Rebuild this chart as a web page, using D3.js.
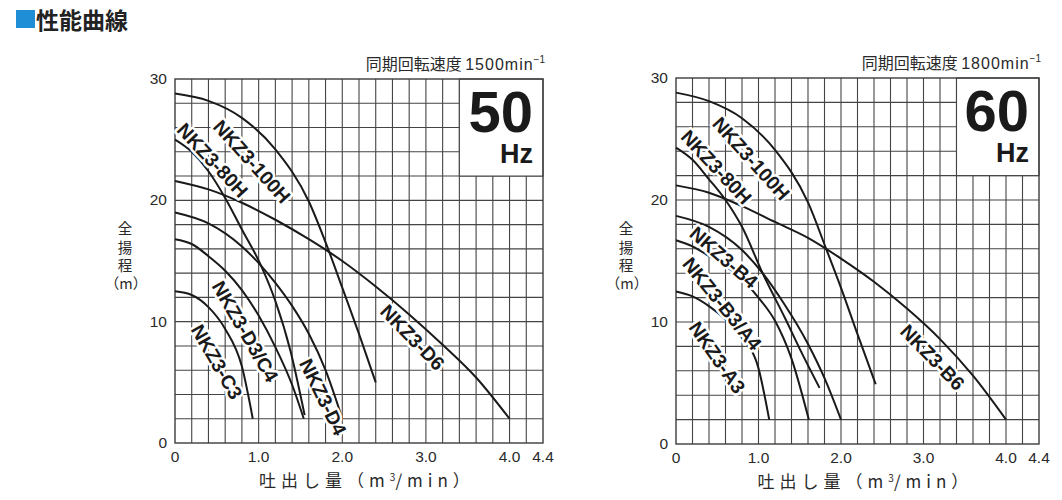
<!DOCTYPE html>
<html lang="ja">
<head>
<meta charset="UTF-8"/>
<title>性能曲線</title>
<script src="https://d3js.org/d3.v7.min.js"></script>
<style type="text/css">
    body { margin: 0; background: #fff; }
    text { font-family: "Liberation Sans", Arial, "Noto Sans CJK JP", sans-serif; fill: #2a2a2a; }
    .jp { font-family: "Noto Sans CJK JP", sans-serif; }
    .grid line { stroke: #444; stroke-width: 1.1px; }
    .frame { fill: none; stroke: #3c3c3c; stroke-width: 1.4px; }
    path.curve { fill: none; stroke: #1a1a1a; stroke-width: 2px; }
    .lbl { font-weight: bold; font-size: 19.5px; fill: #1a1a1a; stroke: #fff; stroke-width: 5px; paint-order: stroke fill; stroke-linejoin: round; }
</style>
</head>
<body>
<svg id="chart" width="1062" height="500"></svg>
<script type="text/javascript">
// axis ticks
var xTicks = [0, 1.0, 2.0, 3.0, 4.0, 4.4];
var xTickLabels = ["0", "1.0", "2.0", "3.0", "4.0", "4.4"];
var yTicks = [0, 10, 20, 30];

// 50Hz curves [flow m3/min, head m]
var c50_100H = [[0,28.8],[0.4,28.2],[0.8,26.8],[1.2,24.2],[1.6,19.9],[1.83,16.0],[2.0,12.8],[2.2,9.0],[2.4,5.0]];
var c50_80H  = [[0,25.0],[0.2,24.0],[0.4,22.4],[0.6,20.2],[0.8,17.6],[1.03,14.6],[1.2,11.7],[1.38,7.6],[1.55,2.3]];
var c50_D6   = [[0,21.6],[0.4,20.9],[0.8,19.8],[1.2,18.4],[1.6,16.8],[2.0,15.0],[2.4,12.9],[2.8,10.6],[3.2,8.1],[3.6,5.4],[4.0,2.0]];
var c50_D4   = [[0,19.0],[0.4,18.1],[0.8,16.2],[1.03,14.6],[1.2,13.2],[1.4,11.3],[1.6,9.0],[1.8,6.0],[2.0,2.0]];
var c50_D3C4 = [[0,16.8],[0.2,16.4],[0.4,15.4],[0.6,14.2],[0.8,12.6],[1.0,10.5],[1.2,7.9],[1.4,4.8],[1.54,2.0]];
var c50_C3   = [[0,12.5],[0.2,12.2],[0.4,11.2],[0.6,9.4],[0.8,6.3],[0.93,2.0]];

// 60Hz curves
var c60_100H = [[0,28.8],[0.4,28.1],[0.8,26.7],[1.2,24.1],[1.6,19.8],[1.82,16.0],[2.0,12.8],[2.2,9.0],[2.42,4.9]];
var c60_80H  = [[0,24.3],[0.2,23.3],[0.4,21.7],[0.6,20.0],[0.8,17.8],[1.05,14.0],[1.33,10.2],[1.5,7.8],[1.74,4.6]];
var c60_B6   = [[0,21.2],[0.4,20.6],[0.8,19.5],[1.2,18.2],[1.6,16.9],[2.0,15.2],[2.4,13.3],[2.8,11.1],[3.2,8.6],[3.6,5.6],[4.0,2.0]];
var c60_B4   = [[0,18.7],[0.4,17.8],[0.8,15.9],[1.05,14.0],[1.3,11.6],[1.6,8.2],[1.8,5.4],[2.0,2.0]];
var c60_B3A4 = [[0,16.7],[0.2,16.2],[0.4,15.4],[0.6,14.6],[0.8,13.5],[1.0,12.0],[1.2,10.1],[1.4,7.0],[1.61,2.0]];
var c60_A3   = [[0,12.5],[0.2,12.1],[0.4,11.3],[0.6,10.2],[0.8,8.7],[1.0,6.2],[1.13,2.0]];

// curve labels: name, flow, head, angle
var labels50 = [["NKZ3-100H",0.92,23.2,48],["NKZ3-80H",0.45,23.3,47],["NKZ3-D6",2.84,8.7,46],
                ["NKZ3-D3/C4",0.84,9.2,60],["NKZ3-C3",0.5,6.7,60],["NKZ3-D4",1.77,3.8,64]];
var labels60 = [["NKZ3-100H",0.91,23.4,48],["NKZ3-80H",0.49,22.7,47],["NKZ3-B6",3.11,7.1,46],
                ["NKZ3-B4",0.58,15.3,41],["NKZ3-B3/A4",0.56,11.5,51],["NKZ3-A3",0.5,7.1,55]];

var svg = d3.select("#chart");

// title
svg.append("rect").attr("x", 16).attr("y", 10).attr("width", 19).attr("height", 18).attr("fill", "#1f8ed6");
svg.append("text").attr("class", "jp").attr("x", 36).attr("y", 29)
    .style("font-size", "23px").style("font-weight", "bold").style("fill", "#222").text("性能曲線");

function drawChart(opt) {
    var x = d3.scaleLinear().domain([0, 4.4]).range([opt.left, opt.right]);
    var y = d3.scaleLinear().domain([0, 30]).range([opt.bottom, opt.top]);
    var g = svg.append("g");

    // grid
    var grid = g.append("g").attr("class", "grid");
    grid.selectAll("line.v").data(d3.range(1, 22)).enter().append("line")
        .attr("x1", function (d) { return x(d * 0.2); }).attr("x2", function (d) { return x(d * 0.2); })
        .attr("y1", y(0)).attr("y2", y(30));
    grid.selectAll("line.h").data(d3.range(1, 15)).enter().append("line")
        .attr("x1", x(0)).attr("x2", x(4.4))
        .attr("y1", function (d) { return y(d * 2); }).attr("y2", function (d) { return y(d * 2); });

    // Hz box
    g.append("rect").attr("x", x(3.4)).attr("y", y(30))
        .attr("width", x(4.4) - x(3.4)).attr("height", y(22) - y(30))
        .attr("fill", "#fff").attr("stroke", "#444").attr("stroke-width", 1.1);
    var hz = g.append("text").attr("text-anchor", "end").style("font-weight", "bold").style("fill", "#1a1a1a");
    hz.append("tspan").attr("x", x(4.4) - 10).attr("y", y(30) + 53).style("font-size", "58px").text(opt.hz);
    hz.append("tspan").attr("x", x(4.4) - 10).attr("y", y(30) + 84).style("font-size", "27px").text("Hz");

    g.append("rect").attr("class", "frame").attr("x", x(0)).attr("y", y(30))
        .attr("width", x(4.4) - x(0)).attr("height", y(0) - y(30));

    // curves
    var line = d3.line().x(function (d) { return x(d[0]); }).y(function (d) { return y(d[1]); })
        .curve(d3.curveMonotoneX);
    g.selectAll("path.curve").data(opt.curves).enter().append("path")
        .attr("class", "curve").attr("d", line);

    // labels
    g.selectAll("text.lbl").data(opt.labels).enter().append("text")
        .attr("class", "lbl").attr("text-anchor", "middle").attr("dy", "0.35em")
        .attr("transform", function (d) { return "translate(" + x(d[1]) + "," + y(d[2]) + ") rotate(" + d[3] + ")"; })
        .text(function (d) { return d[0]; });

    // tick labels
    g.selectAll("text.xt").data(xTicks).enter().append("text")
        .attr("x", function (d) { return x(d); }).attr("y", y(0) + 19)
        .attr("text-anchor", "middle").style("font-size", "15.5px")
        .text(function (d, i) { return xTickLabels[i]; });
    g.selectAll("text.yt").data(yTicks).enter().append("text")
        .attr("x", x(0) - 8).attr("y", function (d) { return y(d) + 5; })
        .attr("text-anchor", "end").style("font-size", "15.5px")
        .text(function (d) { return d; });

    // speed
    var sp = g.append("text").attr("x", x(4.4) + 2).attr("y", y(30) - 9).attr("text-anchor", "end")
        .style("font-size", "16px");
    sp.append("tspan").attr("class", "jp").text("同期回転速度 ");
    sp.append("tspan").style("letter-spacing", "1px").text(opt.speed + "min");
    sp.append("tspan").attr("dy", -7).style("font-size", "10px").text("−1");

    // axis titles (stacked in one text element)
    var ya = g.append("text").attr("class", "jp").attr("text-anchor", "middle").style("font-size", "14.5px");
    ["全", "揚", "程"].forEach(function (c, i) {
        ya.append("tspan").attr("x", x(0) - 50).attr("y", y(17.2) + i * 18.5).text(c);
    });
    ya.append("tspan").attr("x", x(0) - 49).attr("y", y(17.2) + 55).text("（m）");

    var xa = g.append("text").attr("class", "jp").attr("x", x(2.2) + 8).attr("y", y(0) + 44)
        .attr("text-anchor", "middle").style("font-size", "17px").style("letter-spacing", "5px");
    xa.append("tspan").text("吐出し量（m");
    xa.append("tspan").attr("dy", -6).style("font-size", "10px").style("letter-spacing", "0px").text("3");
    xa.append("tspan").attr("dy", 6).text("/min）");
}

drawChart({left: 175, right: 543, top: 79, bottom: 443, hz: "50", speed: "1500",
    curves: [c50_100H, c50_80H, c50_D6, c50_D4, c50_D3C4, c50_C3], labels: labels50});
drawChart({left: 676, right: 1039, top: 78, bottom: 444, hz: "60", speed: "1800",
    curves: [c60_100H, c60_80H, c60_B6, c60_B4, c60_B3A4, c60_A3], labels: labels60});
</script>
</body>
</html>
